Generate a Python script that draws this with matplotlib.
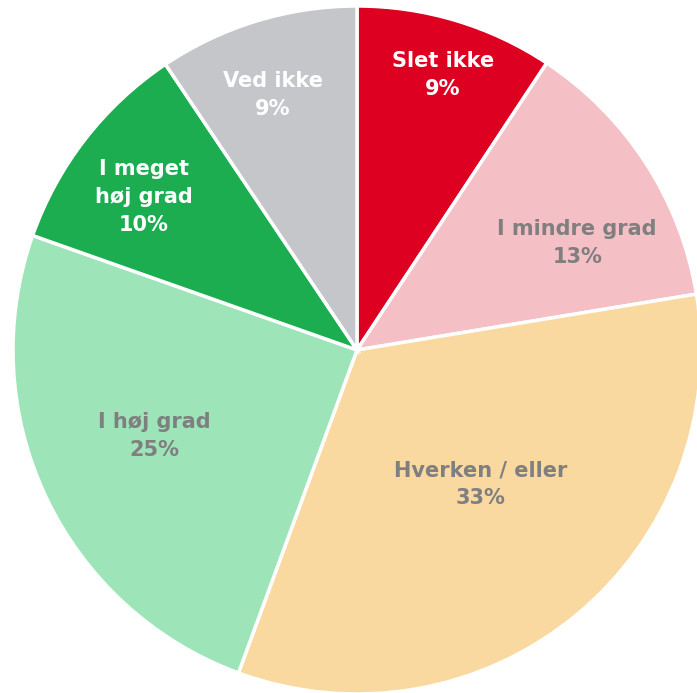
import matplotlib
matplotlib.use("Agg")
import matplotlib.pyplot as plt

# data (share of answers, %)
labels = ["Slet ikke", "I mindre grad", "Hverken / eller", "I høj grad", "I meget\nhøj grad", "Ved ikke"]
values = [9.3, 13.1, 33.2, 24.8, 10.2, 9.4]
shown_pct = [9, 13, 33, 25, 10, 9]
colors = ["#DE0021", "#F5BFC6", "#F9D9A0", "#9DE4B8", "#1BAD50", "#C5C6CA"]
text_colors = ["white", "#7F7F7F", "#7F7F7F", "#7F7F7F", "white", "white"]
# where each label sits inside its slice (fraction of radius)
label_xy = [(0.25, 0.80), (0.64, 0.31), (0.36, -0.39), (-0.59, -0.25), (-0.62, 0.445), (-0.245, 0.74)]

fig = plt.figure(figsize=(6.97, 6.93), dpi=100)
r_px = 344
cx, cy = 357, 350
ax = fig.add_axes([(cx - r_px) / 697, (693 - cy - r_px) / 693, 2 * r_px / 697, 2 * r_px / 693])

wedges, _ = ax.pie(values, colors=colors, startangle=90, counterclock=False,
                   wedgeprops=dict(edgecolor="white", linewidth=2.5), radius=1)
for w in wedges:
    w.set_clip_on(False)

for lab, p, tc, (x, y) in zip(labels, shown_pct, text_colors, label_xy):
    ax.text(x, y, f"{lab}\n{p}%", ha="center", va="center", color=tc,
            fontsize=15, fontweight="bold", family="DejaVu Sans", linespacing=1.5)

ax.set_xlim(-1, 1)
ax.set_ylim(-1, 1)
ax.set_aspect("auto")
ax.axis("off")

fig.savefig("out.png", dpi=100)
